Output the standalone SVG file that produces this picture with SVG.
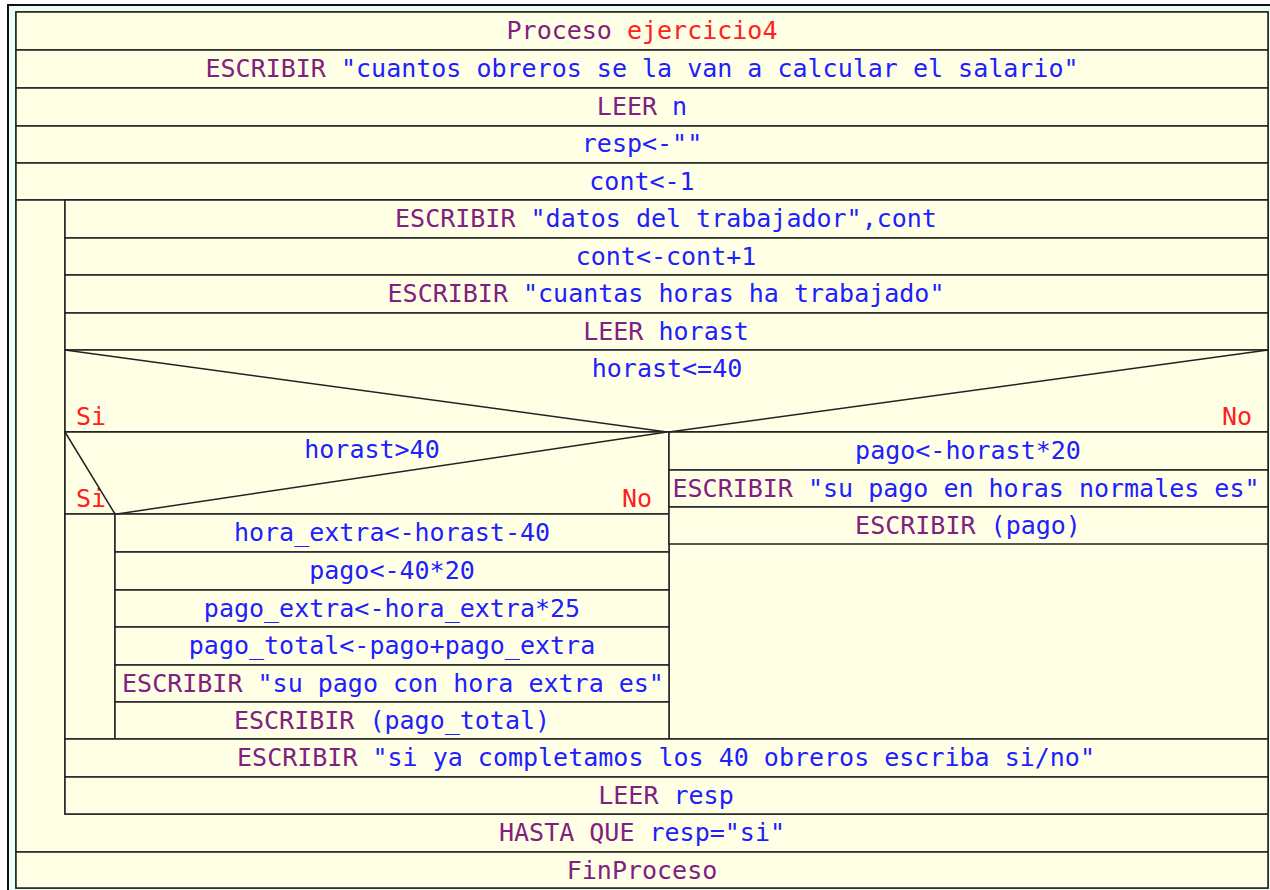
<svg xmlns="http://www.w3.org/2000/svg" width="1270" height="890" viewBox="0 0 1270 890">
  <defs>
    <style>
      .cell{fill:#ffffe6;stroke:#222;stroke-width:1.5}
      .edge{fill:none;stroke:#222;stroke-width:1.5}
      .t{font-family:"DejaVu Sans Mono","Liberation Mono",monospace;font-size:25px;text-anchor:middle;white-space:pre}
      .lbl{font-family:"DejaVu Sans Mono","Liberation Mono",monospace;font-size:25px;fill:#ff2020}
      .k{fill:#802080}
      .v{fill:#2020ff}
      .r{fill:#ff2020}
    </style>
  </defs>

  <!-- window frame -->
  <rect x="8" y="5" width="1262" height="885" fill="#eafff4"/>
  <path d="M8 890 V5 H1270" fill="none" stroke="#111" stroke-width="2"/>
  <rect class="cell" x="16" y="12" width="1252" height="876"/>

  <!-- top level sequence -->
  <g id="n-proceso">
    <rect class="cell" x="16" y="12" width="1252" height="38"/>
    <text class="t" x="642" y="39"><tspan class="k">Proceso</tspan><tspan class="r"> ejercicio4</tspan></text>
  </g>
  <g id="n-escribir-n">
    <rect class="cell" x="16" y="50" width="1252" height="38"/>
    <text class="t" x="642" y="77"><tspan class="k">ESCRIBIR</tspan><tspan class="v"> "cuantos obreros se la van a calcular el salario"</tspan></text>
  </g>
  <g id="n-leer-n">
    <rect class="cell" x="16" y="88" width="1252" height="38"/>
    <text class="t" x="642" y="115"><tspan class="k">LEER</tspan><tspan class="v"> n</tspan></text>
  </g>
  <g id="n-resp">
    <rect class="cell" x="16" y="126" width="1252" height="37"/>
    <text class="t v" x="642" y="152">resp&lt;-""</text>
  </g>
  <g id="n-cont">
    <rect class="cell" x="16" y="163" width="1252" height="37"/>
    <text class="t v" x="642" y="190">cont&lt;-1</text>
  </g>

  <!-- repetir ... hasta que -->
  <g id="n-repetir">
    <rect class="cell" x="16" y="200" width="1252" height="652"/>
    <rect class="cell" x="65" y="200" width="1203" height="614"/>
    <text class="t" x="642" y="841"><tspan class="k">HASTA QUE</tspan><tspan class="v"> resp="si"</tspan></text>
  </g>

  <g id="n-datos">
    <rect class="cell" x="65" y="200" width="1203" height="38"/>
    <text class="t" x="666" y="227"><tspan class="k">ESCRIBIR</tspan><tspan class="v"> "datos del trabajador",cont</tspan></text>
  </g>
  <g id="n-incr">
    <rect class="cell" x="65" y="238" width="1203" height="37"/>
    <text class="t v" x="666" y="265">cont&lt;-cont+1</text>
  </g>
  <g id="n-escribir-horas">
    <rect class="cell" x="65" y="275" width="1203" height="38"/>
    <text class="t" x="666" y="302"><tspan class="k">ESCRIBIR</tspan><tspan class="v"> "cuantas horas ha trabajado"</tspan></text>
  </g>
  <g id="n-leer-horas">
    <rect class="cell" x="65" y="313" width="1203" height="37"/>
    <text class="t" x="666" y="340"><tspan class="k">LEER</tspan><tspan class="v"> horast</tspan></text>
  </g>

  <!-- si horast<=40 -->
  <g id="n-if-normal">
    <rect class="cell" x="65" y="350" width="1203" height="82"/>
    <text class="t v" x="667" y="377">horast&lt;=40</text>
    <text class="lbl" x="76" y="425">Si</text>
    <text class="lbl" x="1222" y="425">No</text>
    <rect class="cell" x="65" y="432" width="604" height="307"/>
    <rect class="cell" x="669" y="432" width="599" height="307"/>
  </g>

  <!-- si horast>40 -->
  <g id="n-if-extra">
    <rect class="cell" x="65" y="432" width="604" height="82"/>
    <text class="t v" x="372" y="458">horast&gt;40</text>
    <text class="lbl" x="76" y="507">Si</text>
    <text class="lbl" x="622" y="507">No</text>
    <rect class="cell" x="65" y="514" width="50" height="225"/>
  </g>

  <g id="n-hora-extra">
    <rect class="cell" x="115" y="514" width="554" height="38"/>
    <text class="t v" x="392" y="541">hora_extra&lt;-horast-40</text>
  </g>
  <g id="n-pago-base">
    <rect class="cell" x="115" y="552" width="554" height="38"/>
    <text class="t v" x="392" y="579">pago&lt;-40*20</text>
  </g>
  <g id="n-pago-extra">
    <rect class="cell" x="115" y="590" width="554" height="37"/>
    <text class="t v" x="392" y="617">pago_extra&lt;-hora_extra*25</text>
  </g>
  <g id="n-pago-total">
    <rect class="cell" x="115" y="627" width="554" height="38"/>
    <text class="t v" x="392" y="654">pago_total&lt;-pago+pago_extra</text>
  </g>
  <g id="n-escribir-extra">
    <rect class="cell" x="115" y="665" width="554" height="37"/>
    <text class="t" x="393" y="692"><tspan class="k">ESCRIBIR</tspan><tspan class="v"> "su pago con hora extra es"</tspan></text>
  </g>
  <g id="n-escribir-total">
    <rect class="cell" x="115" y="702" width="554" height="37"/>
    <text class="t" x="392" y="729"><tspan class="k">ESCRIBIR</tspan><tspan class="v"> (pago_total)</tspan></text>
  </g>

  <g id="n-pago-normal">
    <rect class="cell" x="669" y="432" width="599" height="38"/>
    <text class="t v" x="968" y="459">pago&lt;-horast*20</text>
  </g>
  <g id="n-escribir-normal">
    <rect class="cell" x="669" y="470" width="599" height="37"/>
    <text class="t" x="966" y="497"><tspan class="k">ESCRIBIR</tspan><tspan class="v"> "su pago en horas normales es"</tspan></text>
  </g>
  <g id="n-escribir-pago">
    <rect class="cell" x="669" y="507" width="599" height="37"/>
    <text class="t" x="968" y="534"><tspan class="k">ESCRIBIR</tspan><tspan class="v"> (pago)</tspan></text>
  </g>

  <g id="n-escribir-fin">
    <rect class="cell" x="65" y="739" width="1203" height="38"/>
    <text class="t" x="666" y="766"><tspan class="k">ESCRIBIR</tspan><tspan class="v"> "si ya completamos los 40 obreros escriba si/no"</tspan></text>
  </g>
  <g id="n-leer-resp">
    <rect class="cell" x="65" y="777" width="1203" height="37"/>
    <text class="t" x="666" y="804"><tspan class="k">LEER</tspan><tspan class="v"> resp</tspan></text>
  </g>

  <g id="n-finproceso">
    <rect class="cell" x="16" y="852" width="1252" height="36"/>
    <text class="t k" x="642" y="879">FinProceso</text>
  </g>

  <!-- condition slants -->
  <g id="connectors">
    <path class="edge" d="M65 350 L667 432 M1268 350 L669 432"/>
    <path class="edge" d="M65 432 L115 514 M117 514 L667 432"/>
  </g>
</svg>
